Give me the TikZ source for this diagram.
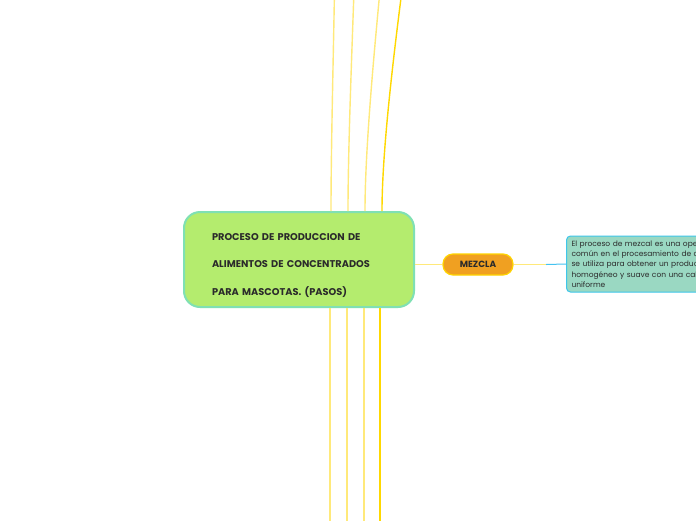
\documentclass[tikz,border=0pt]{standalone}
\usepackage{fontspec}
\setmainfont{Poppins}
\usetikzlibrary{positioning}

\definecolor{topicgreen}{HTML}{B4EC6E}
\definecolor{topicedge}{HTML}{7FE0B4}
\definecolor{mixorange}{HTML}{F0A021}
\definecolor{mixedge}{HTML}{FFD400}
\definecolor{notefill}{HTML}{9AD8C2}
\definecolor{noteedge}{HTML}{3EC6EA}
\definecolor{stemlight}{HTML}{FFE97A}
\definecolor{stemgold}{HTML}{FFD800}
\definecolor{linkblue}{HTML}{45C3F0}
\definecolor{inkdark}{HTML}{2B2B2B}

\begin{document}
\begin{tikzpicture}[
				x=1pt, y=-1pt,
				every node/.style={text=inkdark},
				central/.style={
						draw=topicedge,
						fill=topicgreen,
						line width=2pt,
						rounded corners=16pt,
						minimum width=230pt,
						minimum height=95pt,
						text width=174pt,
						align=left,
						inner xsep=28pt,
						font=\fontsize{9.8}{27.5}\selectfont\bfseries
					},
				subtopic/.style={
						draw=mixedge,
						fill=mixorange,
						line width=1.2pt,
						rounded corners=10pt,
						minimum width=70pt,
						minimum height=21pt,
						font=\fontsize{9}{10}\selectfont\bfseries
					},
				note/.style={
						draw=noteedge,
						fill=notefill,
						line width=1pt,
						rounded corners=4pt,
						minimum height=56pt,
						text width=180pt,
						align=left,
						inner xsep=5pt,
						font=\fontsize{7.5}{10.3}\selectfont
					},
				stem/.style={line width=1.4pt, stemlight},
				link/.style={line width=1pt}
			]
		\useasboundingbox[fill=white] (0,0) rectangle (696,520);

		% Main topic and branch
		\node[central] (main) at (299,259.5) {%
			\rule{0pt}{19pt}PROCESO DE PRODUCCION DE\\
			ALIMENTOS DE CONCENTRADOS\\
			PARA MASCOTAS. (PASOS)
		};
		\node[subtopic] (mezcla) at (478,264.5) {MEZCLA};
		\node[note, anchor=west] (detalle) at (566,264) {
			El proceso de mezcal es una operación\\
			común en el procesamiento de alimentos y\\
			se utiliza para obtener un producto\\
			homogéneo y suave con una calidad\\
			uniforme
		};

		% Connectors
		\coordinate (cambio) at (546,264.5);
		\draw[link, stemlight] (main.east |- mezcla.west) -- (mezcla.west);
		\draw[link, stemlight] (mezcla.east) -- (cambio);
		\draw[link, linkblue] (cambio) -- (detalle.west);

		% Branches leaving the picture, upwards and downwards
		\foreach \dx/\ex/\bend/\col in {148/334.5/-1/stemlight, 165/354/-2/stemlight, 182/380/-5.6/stemlight, 199/402/-7.6/stemgold} {
				\coordinate (arriba) at (\ex,-10);
				\draw[stem, \col] ([xshift=\dx pt]main.north west) .. controls +(0,-62) and +(\bend,60) .. (arriba);
			}
		\foreach \dx/\col in {147/stemlight, 164/stemlight, 181/stemlight, 197/stemgold} {
				\coordinate (abajo) at ([xshift=\dx pt]main.south west);
				\draw[stem, \col] (abajo) -- +(0,230);
			}
	\end{tikzpicture}
\end{document}
